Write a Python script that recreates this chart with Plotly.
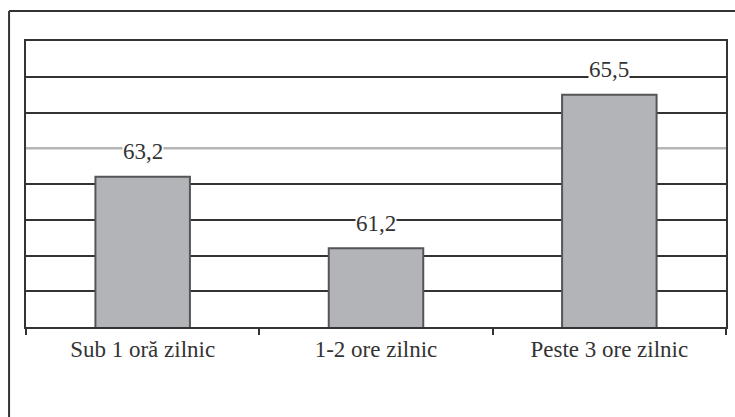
import plotly.graph_objects as go

categories = ["Sub 1 oră zilnic", "1-2 ore zilnic", "Peste 3 ore zilnic"]
values = [63.2, 61.2, 65.5]
value_labels = ["63,2", "61,2", "65,5"]

Y_MIN, Y_MAX = 59, 67
DARK_GRID = [60, 61, 62, 63, 65, 66, 67]
LIGHT_GRID = 64
FONT = "Liberation Serif"

fig = go.Figure()
fig.add_trace(go.Bar(
    x=categories, y=values,
    marker=dict(color="#b3b4b8", line=dict(color="#555558", width=2)),
    width=0.405,
    hoverinfo="skip",
))

for c, v, t in zip(categories, values, value_labels):
    fig.add_annotation(x=c, y=v, text=t, showarrow=False, yanchor="middle", yshift=25,
                       font=dict(family=FONT, size=23, color="#333333"),
                       bgcolor="white", borderpad=0)

# lighter gridline as in the reference
fig.add_shape(type="line", xref="x domain", yref="y", x0=0, x1=1, y0=LIGHT_GRID, y1=LIGHT_GRID,
              line=dict(color="#b5b5b5", width=2.5), layer="below")

# outer frame
fig.add_shape(type="line", xref="paper", yref="paper", x0=-0.0242, x1=1.02, y0=1.105, y1=1.105,
              line=dict(color="#333333", width=2))
fig.add_shape(type="line", xref="paper", yref="paper", x0=-0.0242, x1=-0.0242, y0=-0.4, y1=1.105,
              line=dict(color="#333333", width=2))

fig.update_layout(
    width=735, height=417,
    margin=dict(l=26, r=7, t=41, b=90),
    paper_bgcolor="white", plot_bgcolor="white",
    showlegend=False,
    font=dict(family=FONT, size=23, color="#333333"),
)
fig.update_xaxes(
    showline=True, linecolor="#333333", linewidth=2, mirror=True,
    ticks="outside", tickson="boundaries", ticklen=6, tickwidth=2, tickcolor="#333333",
    tickfont=dict(family=FONT, size=23, color="#333333"),
    showgrid=False,
)
fig.update_yaxes(
    range=[Y_MIN, Y_MAX], tickvals=DARK_GRID, showticklabels=False,
    showgrid=True, gridcolor="#333333", gridwidth=2,
    showline=True, linecolor="#333333", linewidth=2, mirror=True,
    ticks="", zeroline=False,
)

fig.write_html("out.html", config={"displayModeBar": False},
               post_script="document.body.style.margin='0';")
